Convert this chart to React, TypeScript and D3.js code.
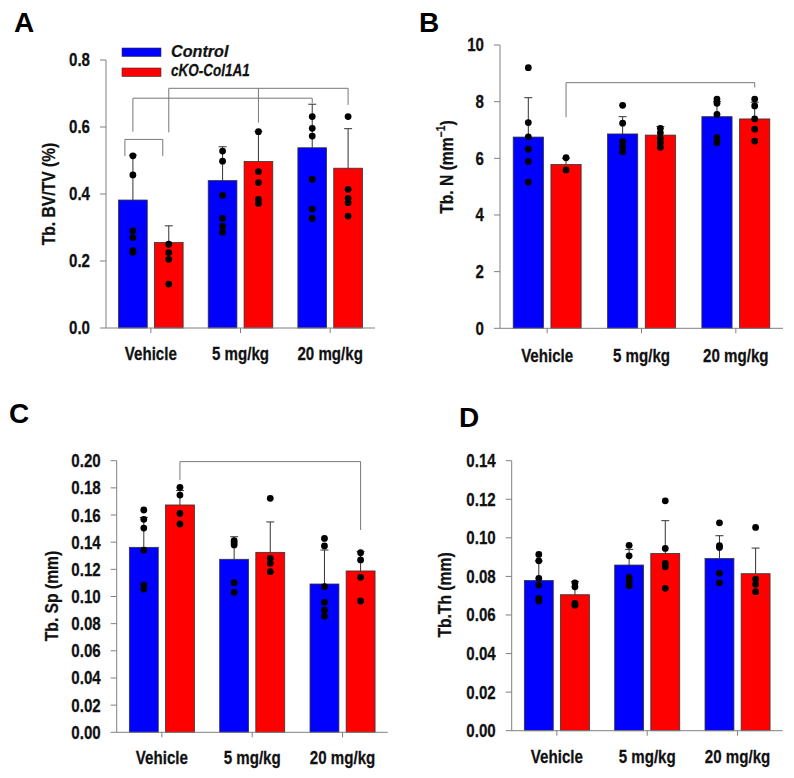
import React from "react";
import * as d3 from "d3";

// ---------- data ----------
const groups = ["Vehicle", "5 mg/kg", "20 mg/kg"];
const seriesNames = ["Control", "cKO-Col1A1"];
const seriesColors = ["#0000FF", "#FF0000"];

// Panel A: Tb. BV/TV
const bvtvMean = [
  [0.382, 0.44, 0.538],
  [0.255, 0.497, 0.477],
];
const bvtvSd = [
  [0.134, 0.101, 0.13],
  [0.05, 0.09, 0.118],
];
const bvtvDots = [
  [
    [0.514, 0.457, 0.29, 0.27, 0.231, 0.226],
    [0.528, 0.498, 0.396, 0.327, 0.304, 0.286],
    [0.631, 0.596, 0.573, 0.444, 0.355, 0.327],
  ],
  [
    [0.25, 0.225, 0.205, 0.131],
    [0.586, 0.467, 0.434, 0.384, 0.372],
    [0.631, 0.414, 0.387, 0.374, 0.334],
  ],
];
const bvtvTicks = [0, 0.2, 0.4, 0.6, 0.8];

// Panel B: Tb. N
const tbnMean = [
  [6.75, 6.86, 7.47],
  [5.78, 6.82, 7.39],
];
const tbnSd = [
  [1.39, 0.61, 0.53],
  [0.22, 0.3, 0.59],
];
const tbnDots = [
  [
    [9.2, 7.26, 6.76, 6.32, 5.89, 5.16],
    [7.87, 7.24, 6.59, 6.41, 6.23],
    [8.09, 7.94, 7.55, 6.73, 6.55],
  ],
  [
    [6.02, 5.59],
    [7.06, 6.9, 6.7, 6.55, 6.39],
    [8.09, 7.85, 7.39, 7.03, 6.61],
  ],
];
const tbnTicks = [0, 2, 4, 6, 8, 10];

// Panel C: Tb. Sp
const tbspMean = [
  [0.1362, 0.1274, 0.1092],
  [0.1674, 0.1325, 0.1188],
];
const tbspSd = [
  [0.022, 0.0166, 0.025],
  [0.0106, 0.0224, 0.0142],
];
const tbspDots = [
  [
    [0.1637, 0.1568, 0.1504, 0.1342, 0.1084, 0.1055],
    [0.1411, 0.1395, 0.138, 0.1102, 0.1031],
    [0.1428, 0.1372, 0.1072, 0.0957, 0.0901, 0.0856],
  ],
  [
    [0.1804, 0.1747, 0.1612, 0.1534],
    [0.1723, 0.1281, 0.1244, 0.1183],
    [0.1323, 0.1269, 0.1141, 0.0967],
  ],
];
const tbspTicks = [0, 0.02, 0.04, 0.06, 0.08, 0.1, 0.12, 0.14, 0.16, 0.18, 0.2];

// Panel D: Tb. Th
const tbthMean = [
  [0.0779, 0.0859, 0.0893],
  [0.0705, 0.0919, 0.0814],
];
const tbthSd = [
  [0.0101, 0.0081, 0.0118],
  [0.0068, 0.017, 0.0133],
];
const tbthDots = [
  [
    [0.0914, 0.0881, 0.079, 0.0755, 0.0686, 0.0672],
    [0.0961, 0.0907, 0.0795, 0.0772, 0.0752],
    [0.1078, 0.0959, 0.095, 0.0816, 0.0767],
  ],
  [
    [0.0767, 0.0746, 0.066, 0.0651],
    [0.1192, 0.0945, 0.0867, 0.085, 0.0738],
    [0.1054, 0.0786, 0.076, 0.0721],
  ],
];
const tbthTicks = [0, 0.02, 0.04, 0.06, 0.08, 0.1, 0.12, 0.14];

// significance brackets: top value, legs [group, series, leg-end value, dx]
const bvtvBrackets = [
  { top: 0.563, legs: [[0, 0, 0.513, -8], [0, 1, 0.513, -6]] },
  { top: 0.686, legs: [[0, 0, 0.586, 0], [2, 0, 0.671, 0]] },
  { top: 0.7155, legs: [[0, 1, 0.584, 0], [1, 1, 0.613, 0], [2, 1, 0.666, 0]] },
];
const tbnBrackets = [{ top: 8.67, legs: [[0, 1, 7.45, 0], [2, 1, 8.5, 0]] }];
const tbspBrackets = [{ top: 0.1993, legs: [[0, 1, 0.1858, 0], [2, 1, 0.149, 0]] }];

const FONT = "Arial, 'Liberation Sans', Helvetica, sans-serif";
const AXIS = "#808080";

// condensed bold text: drawn larger and squeezed along its length
function CT(props: {
  x: number;
  y: number;
  size: number;
  sx?: number;
  anchor?: string;
  rotate?: number;
  italic?: boolean;
  dy?: string;
  children: React.ReactNode;
}) {
  const sx = props.sx ?? 0.9;
  const rot = props.rotate ? ` rotate(${props.rotate})` : "";
  return (
    <g transform={`translate(${props.x},${props.y})${rot} scale(${sx},1)`}>
      <text
        x={0}
        y={0}
        dy={props.dy}
        textAnchor={props.anchor ?? "start"}
        fontFamily={FONT}
        fontWeight="bold"
        fontStyle={props.italic ? "italic" : "normal"}
        fontSize={props.size}
        fill="#111"
        stroke="#111"
        strokeWidth={0.25}
      >
        {props.children}
      </text>
    </g>
  );
}

type PanelProps = {
  x0: number;
  x1: number;
  yTop: number;
  yBottom: number;
  domainMax: number;
  ticks: number[];
  fmt: (v: number) => string;
  means: number[][];
  sds: number[][];
  dots: number[][][];
  brackets?: { top: number; legs: number[][] }[];
  letter: string;
  letterX: number;
  letterY: number;
  title: React.ReactNode;
  titleX: number;
  titleY: number;
  xLabelY: number;
};

function Panel(p: PanelProps) {
  const y = d3.scaleLinear().domain([0, p.domainMax]).range([p.yBottom, p.yTop]);
  const xg = d3.scaleBand().domain(groups).range([p.x0, p.x1]).paddingInner(0.28).paddingOuter(0.14);
  const xs = d3.scaleBand().domain(seriesNames).range([0, xg.bandwidth()]).paddingInner(0.2);
  const cx = (g: number, s: number) => (xg(groups[g]) as number) + (xs(seriesNames[s]) as number) + xs.bandwidth() / 2;
  const groupCenter = (g: number) => (xg(groups[g]) as number) + xg.bandwidth() / 2;
  const step = xg.step();

  return (
    <g>
      <text x={p.letterX} y={p.letterY} fontFamily={FONT} fontWeight="bold" fontSize={28}>
        {p.letter}
      </text>
      {/* bars */}
      {p.means.map((row, s) =>
        row.map((m, g) => (
          <rect
            key={`b${s}-${g}`}
            x={cx(g, s) - xs.bandwidth() / 2}
            y={y(m)}
            width={xs.bandwidth()}
            height={p.yBottom - y(m)}
            fill={seriesColors[s]}
            stroke="#333"
            strokeWidth={0.8}
          />
        ))
      )}
      {/* error bars */}
      {p.means.map((row, s) =>
        row.map((m, g) => {
          const top = y(m + p.sds[s][g]);
          const c = cx(g, s);
          return (
            <g key={`e${s}-${g}`} stroke="#333" strokeWidth={1}>
              <line x1={c} x2={c} y1={y(m)} y2={top} />
              <line x1={c - 4} x2={c + 4} y1={top} y2={top} />
            </g>
          );
        })
      )}
      {/* dots */}
      {p.dots.map((sd, s) =>
        sd.map((vals, g) =>
          vals.map((v, i) => <circle key={`d${s}-${g}-${i}`} cx={cx(g, s)} cy={y(v)} r={3.4} fill="#000" />)
        )
      )}
      {/* brackets */}
      {(p.brackets || []).map((b, bi) => {
        const xsL = b.legs.map((l) => cx(l[0], l[1]) + l[3]);
        return (
          <g key={`br${bi}`} stroke="#777" strokeWidth={1} fill="none">
            <line x1={d3.min(xsL)} x2={d3.max(xsL)} y1={y(b.top)} y2={y(b.top)} />
            {b.legs.map((l, li) => (
              <line key={li} x1={xsL[li]} x2={xsL[li]} y1={y(b.top)} y2={y(l[2])} />
            ))}
          </g>
        );
      })}
      {/* y axis */}
      <line x1={p.x0} x2={p.x0} y1={p.yTop} y2={p.yBottom} stroke={AXIS} strokeWidth={1} />
      {p.ticks.map((t) => (
        <g key={`t${t}`}>
          <line x1={p.x0 - 6} x2={p.x0} y1={y(t)} y2={y(t)} stroke={AXIS} strokeWidth={1} />
          <CT x={p.x0 - 16} y={y(t)} dy="0.36em" anchor="end" size={18} sx={0.84}>
            {p.fmt(t)}
          </CT>
        </g>
      ))}
      {/* x axis */}
      <line x1={p.x0} x2={p.x0 + step * groups.length} y1={p.yBottom} y2={p.yBottom} stroke={AXIS} strokeWidth={1} />
      {groups.map((gname, g) => (
        <g key={`x${g}`}>
          <line x1={groupCenter(g)} x2={groupCenter(g)} y1={p.yBottom} y2={p.yBottom + 5} stroke={AXIS} strokeWidth={1} />
          <CT x={groupCenter(g)} y={p.xLabelY} anchor="middle" size={18} sx={0.84}>
            {gname}
          </CT>
        </g>
      ))}
      {/* y title */}
      <CT x={p.titleX} y={p.titleY} rotate={-90} anchor="middle" dy="0.35em" size={18} sx={0.87}>
        {p.title}
      </CT>
    </g>
  );
}

export default function App() {
  const f1 = d3.format(".1f");
  const f2 = d3.format(".2f");
  const f0 = d3.format("d");
  return (
    <svg
      width={794}
      height={778}
      style={{ position: "absolute", left: 0, top: 0, background: "#fff" }}
    >
      <rect x={0} y={0} width={794} height={778} fill="#fff" />
      <Panel
        x0={106}
        x1={375}
        yTop={60}
        yBottom={328}
        domainMax={0.8}
        ticks={bvtvTicks}
        fmt={f1}
        means={bvtvMean}
        sds={bvtvSd}
        dots={bvtvDots}
        brackets={bvtvBrackets}
        letter="A"
        letterX={14}
        letterY={32}
        title="Tb. BV/TV (%)"
        titleX={49}
        titleY={194}
        xLabelY={360}
      />
      <Panel
        x0={500}
        x1={783}
        yTop={45}
        yBottom={328.3}
        domainMax={10}
        ticks={tbnTicks}
        fmt={f0}
        means={tbnMean}
        sds={tbnSd}
        dots={tbnDots}
        brackets={tbnBrackets}
        letter="B"
        letterX={419}
        letterY={32}
        title={
          <>
            Tb. N (mm
            <tspan fontSize={12} dy="-8">
              −1
            </tspan>
            <tspan dy="8">)</tspan>
          </>
        }
        titleX={447}
        titleY={167}
        xLabelY={361.5}
      />
      <Panel
        x0={116.7}
        x1={387.7}
        yTop={460.7}
        yBottom={732.3}
        domainMax={0.2}
        ticks={tbspTicks}
        fmt={f2}
        means={tbspMean}
        sds={tbspSd}
        dots={tbspDots}
        brackets={tbspBrackets}
        letter="C"
        letterX={9}
        letterY={423}
        title="Tb. Sp (mm)"
        titleX={52}
        titleY={596}
        xLabelY={764}
      />
      <Panel
        x0={511.7}
        x1={782.7}
        yTop={460.7}
        yBottom={730.7}
        domainMax={0.14}
        ticks={tbthTicks}
        fmt={f2}
        means={tbthMean}
        sds={tbthSd}
        dots={tbthDots}
        letter="D"
        letterX={459}
        letterY={427}
        title="Tb.Th (mm)"
        titleX={445}
        titleY={595}
        xLabelY={763}
      />
      {/* legend (panel A) */}
      {seriesNames.map((n, i) => (
        <g key={n}>
          <rect x={122} y={48 + i * 20} width={39} height={8.5} fill={seriesColors[i]} stroke="#333" strokeWidth={0.6} />
          <CT x={171} y={56.5 + i * 19.5} size={16.5} sx={i === 0 ? 0.98 : 0.82} italic>
            {n}
          </CT>
        </g>
      ))}
    </svg>
  );
}
